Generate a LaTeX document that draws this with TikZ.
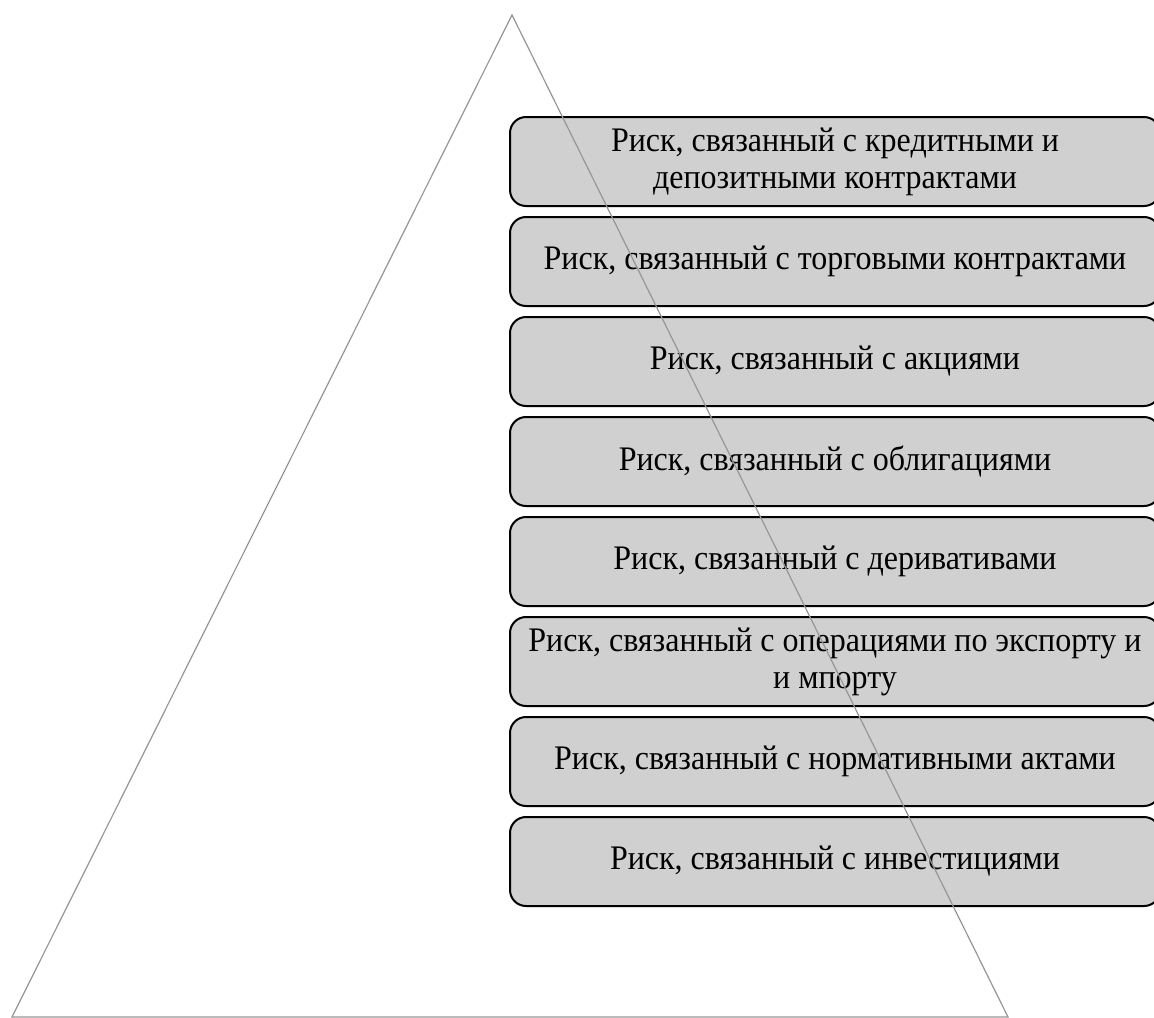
\documentclass[tikz,border=0pt]{standalone}
\usepackage{fontspec}
\setmainfont{Liberation Serif}[FakeStretch=0.93]
\usepackage{tikz}
\definecolor{boxgray}{RGB}{208,208,208}
\definecolor{linegray}{RGB}{150,150,150}

\begin{document}
\begin{tikzpicture}[x=0.5pt,y=-0.5pt,
  riskbox/.style={draw=black,line width=1pt,fill=boxgray,rounded corners=8pt,
    minimum width=325pt,minimum height=44.5pt,inner sep=0pt,
    font=\fontsize{17.2}{18.5}\selectfont,align=center}]
\useasboundingbox (0,0) rectangle (1154,1017);
\clip (0,0) rectangle (1154,1017);
\fill[white] (0,0) rectangle (1154,1017);
  \node[riskbox] (b1) at (835,161.5) {Риск, связанный с кредитными и\\депозитными контрактами};
  \node[riskbox] (b2) at (835,261.5) {Риск, связанный с торговыми контрактами};
  \node[riskbox] (b3) at (835,361.5) {Риск, связанный с акциями};
  \node[riskbox] (b4) at (835,461.5) {Риск, связанный с облигациями};
  \node[riskbox] (b5) at (835,561.5) {Риск, связанный с деривативами};
  \node[riskbox] (b6) at (835,661.5) {Риск, связанный с операциями по экспорту и\\и мпорту};
  \node[riskbox] (b7) at (835,761.5) {Риск, связанный с нормативными актами};
  \node[riskbox] (b8) at (835,861.5) {Риск, связанный с инвестициями};
  % pyramid outline over the boxes
  \coordinate (top) at (512,15);
  \coordinate (bl) at (12,1017);
  \coordinate (br) at (1008,1017);
  \draw[linegray,line width=0.6pt] (top) -- (bl) -- (br) -- cycle;
\end{tikzpicture}
\end{document}
